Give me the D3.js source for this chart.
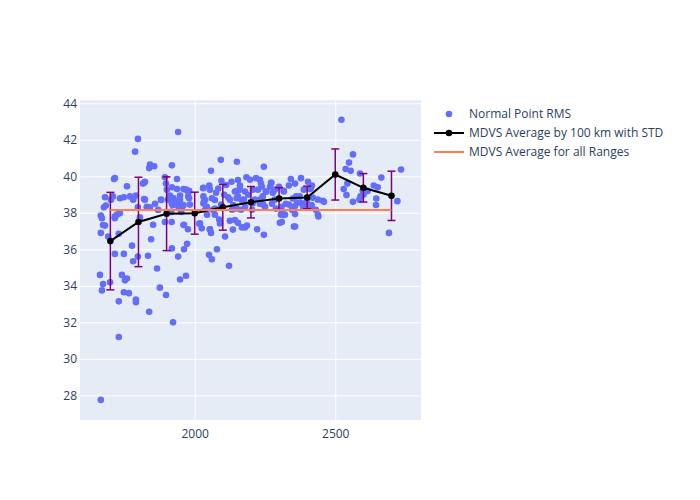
<!DOCTYPE html>
<html><head><meta charset="utf-8">
<script src="https://cdn.jsdelivr.net/npm/d3@7"></script>
<style>body{margin:0;background:#fff}svg{font-family:"Open Sans",verdana,arial,sans-serif}</style>
</head><body><svg id="c" width="700" height="500"></svg>
<script>
const pointX = [1666,1663,1674,1670,1699,1666,1670,1681,1666,1692,1677,1684,1681,1709,1713,1716,1716,1723,1734,1730,1716,1748,1734,1748,1741,1730,1730,1748,1752,1759,1759,1766,1770,1777,1781,1781,1788,1798,1791,1791,1791,1798,1805,1798,1816,1820,1823,1834,1830,1838,1841,1856,1845,1852,1859,1866,1838,1870,1876,1880,1894,1898,1894,1901,1905,1898,1912,1919,1919,1919,1916,1923,1919,1937,1941,1941,1941,1948,1952,1955,1962,1962,1973,1948,1969,1980,1980,1983,1976,1969,2016,2030,2033,2037,2044,2051,2061,2058,2054,2054,2058,2065,2072,2079,2076,2093,2108,2122,2125,2133,2136,2112,2087,2094,2105,2150,2150,2154,2161,2165,2168,2179,2186,2175,2190,2197,2204,2207,2214,2218,2222,2232,2232,2243,2246,2246,2239,2253,2268,2271,2278,2275,2285,2289,2300,2307,2310,2317,2321,2324,2335,2342,2349,2353,2346,2357,2364,2374,2378,2378,2388,2399,2403,2410,2417,2420,2431,2438,2438,2456,2406,2440,2460,2414,2522,2563,2549,2537,2555,2588,2543,2530,2540,2563,2586,2598,2615,2637,2651,2664,2646,2645,2734,2721,2691,2601,2590,
1937,1960,1977,2031,2052,2084,2095,2131,2154,2184,2143,2161,2179,1925,1948,1977,2031,2037,2061,2072,2119,2149,2167,1922,1942,1960,2031,2043,2072,2137,2149,2179,2206,1918,1960,2019,2025,2054,2090,2125,2143,2154,
1702,1781,1820,1830,1841,1870,1881,1912,1919,1823,1674,1716,
2236,2273,2335,2225,2255,2285,2317,2413,2242,2361,2232,2250,2309,2357,2386,2416,2309,2315,2357,2303,2357];
const pointY = [27.75,34.6,34.1,33.75,34.2,37.85,37.7,37.3,36.9,36.7,38.3,38.4,38.85,38.9,39.85,39.9,37.8,37.9,37.98,36.85,35.75,35.75,38.8,38.85,34.6,33.15,31.2,33.65,34.3,34.4,39.45,33.6,38.9,36.2,35.35,38.75,41.35,42.05,38.95,33.25,33.1,38.3,37.75,35.6,39.6,39.65,38.72,35.65,38.3,40.45,40.65,40.55,36.55,37.35,38.5,34.95,32.58,38.17,33.9,38.72,39.95,39.6,37.5,39.27,38.72,33.5,38.95,40.6,39.4,38.55,38.05,32.0,36.05,39.85,42.43,35.6,38.6,38.95,38.05,38.3,37.35,36.0,36.3,34.35,34.55,39.2,38.8,38.45,37.1,39.27,37.4,39.35,38.6,38.17,37.9,35.7,35.45,40.3,39.27,37.1,36.9,38.17,37.9,36.0,39.1,40.9,36.7,35.1,38.72,38.17,37.08,39.52,37.63,38.45,38.99,40.8,39.2,38.9,39.5,38.17,37.2,37.2,37.3,38.72,38.99,39.81,38.17,39.27,38.72,39.9,37.1,39.81,38.72,38.45,36.8,40.52,39.43,39.16,39.43,39.65,39.1,38.5,38.72,38.23,39.43,37.9,37.5,39.2,37.9,38.5,38.45,39.85,38.78,37.25,38.17,39.6,38.55,38.9,39.9,38.55,39.27,38.6,39.7,39.3,39.5,38.83,38.17,37.9,38.72,38.66,38.28,37.8,38.6,38.3,43.1,41.2,40.75,40.4,40.3,40.15,39.6,39.3,38.97,38.6,38.72,39.2,39.2,39.5,39.4,39.93,38.78,38.43,40.37,38.64,36.9,39.0,38.9,
39.3,39.3,39.15,39.37,39.5,39.33,39.75,39.7,39.8,39.95,39.17,39.27,39.17,38.8,38.7,38.9,38.9,38.7,38.8,38.7,38.85,38.8,38.7,38.42,38.33,38.42,38.51,38.33,38.24,38.42,38.24,38.33,38.51,37.5,37.33,37.42,37.15,37.1,37.42,37.56,37.6,37.45,
38.72,38.72,38.75,38.33,38.3,38.15,38.7,38.9,38.5,39.7,37.33,37.7,
39.6,39.65,39.5,39.27,39.17,39.27,39.17,39.35,38.9,38.9,38.5,38.33,38.33,38.37,38.33,38.42,37.97,37.88,37.93,37.45,37.25];
const binX = [1700,1800,1900,2000,2100,2200,2300,2400,2500,2600,2700];
const binMean = [36.45,37.5,37.95,37.98,38.3,38.58,38.78,38.84,40.1,39.37,38.93];
const binStd = [2.67,2.45,2.02,1.15,1.25,0.86,0.6,0.62,1.4,0.78,1.35];
const overallMean = 38.15;
const xTicks = [2000,2500];
const yTicks = [28,30,32,34,36,38,40,42,44];
const legendLabels = ["Normal Point RMS","MDVS Average by 100 km with STD","MDVS Average for all Ranges"];

const svg = d3.select("#c");
const L=80,R=421,T=100,B=420;
const x = d3.scaleLinear().domain([1592,2805]).range([L,R]);
const y = d3.scaleLinear().domain([26.65,44.18]).range([B,T]);
svg.append("rect").attr("width",700).attr("height",500).attr("fill","#fff");
svg.append("rect").attr("x",L).attr("y",T).attr("width",R-L).attr("height",B-T).attr("fill","#E5ECF6");

const gx = svg.append("g").attr("transform",`translate(0,${B})`)
  .call(d3.axisBottom(x).tickValues(xTicks).tickSize(-(B-T)).tickPadding(9).tickFormat(d3.format("d")));
const gy = svg.append("g").attr("transform",`translate(${L},0)`)
  .call(d3.axisLeft(y).tickValues(yTicks).tickSize(-(R-L)).tickPadding(3));
[gx,gy].forEach(g=>{
  g.select(".domain").remove();
  g.selectAll(".tick line").attr("stroke","#fff").attr("stroke-width",1);
  g.selectAll(".tick text").attr("fill","#2a3f5f").style("font-size","12px").style("font-family",'"Open Sans",verdana,arial,sans-serif');
});

const clip = svg.append("defs").append("clipPath").attr("id","pc").append("rect").attr("x",L).attr("y",T).attr("width",R-L).attr("height",B-T);
const plot = svg.append("g").attr("clip-path","url(#pc)");
plot.selectAll("circle.p").data(pointX.map((v,i)=>[v,pointY[i]])).join("circle")
  .attr("class","p").attr("cx",d=>x(d[0])).attr("cy",d=>y(d[1])).attr("r",3.3).attr("fill","#636efa");

// error bars
const eb = plot.append("g").attr("stroke","#800080").attr("stroke-width",1.5).attr("fill","none");
binX.forEach((bx,i)=>{
  const cx=x(bx), y1=y(binMean[i]+binStd[i]), y2=y(binMean[i]-binStd[i]);
  eb.append("line").attr("x1",cx).attr("x2",cx).attr("y1",y1).attr("y2",y2);
  eb.append("line").attr("x1",cx-4).attr("x2",cx+4).attr("y1",y1).attr("y2",y1);
  eb.append("line").attr("x1",cx-4).attr("x2",cx+4).attr("y1",y2).attr("y2",y2);
});
const line = d3.line().x((d,i)=>x(binX[i])).y(d=>y(d));
plot.append("path").attr("d",line(binMean)).attr("fill","none").attr("stroke","#000").attr("stroke-width",2);
plot.selectAll("circle.m").data(binMean).join("circle").attr("class","m")
  .attr("cx",(d,i)=>x(binX[i])).attr("cy",d=>y(d)).attr("r",3.3).attr("fill","#000");
plot.append("line").attr("x1",x(binX[0])).attr("x2",x(binX[binX.length-1]))
  .attr("y1",y(overallMean)).attr("y2",y(overallMean)).attr("stroke","#FF7F50").attr("stroke-width",2);

// legend
const lg = svg.append("g");
const ly=[114,133,152];
lg.append("circle").attr("cx",449).attr("cy",ly[0]).attr("r",3.3).attr("fill","#636efa");
lg.append("line").attr("x1",434).attr("x2",464).attr("y1",ly[1]).attr("y2",ly[1]).attr("stroke","#000").attr("stroke-width",2);
lg.append("circle").attr("cx",449).attr("cy",ly[1]).attr("r",3.3).attr("fill","#000");
lg.append("line").attr("x1",434).attr("x2",464).attr("y1",ly[2]).attr("y2",ly[2]).attr("stroke","#FF7F50").attr("stroke-width",2);
legendLabels.forEach((t,i)=>{
  lg.append("text").attr("x",469).attr("y",ly[i]).attr("dy","0.35em").attr("fill","#2a3f5f")
    .style("font-size","12px").text(t);
});
</script></body></html>
